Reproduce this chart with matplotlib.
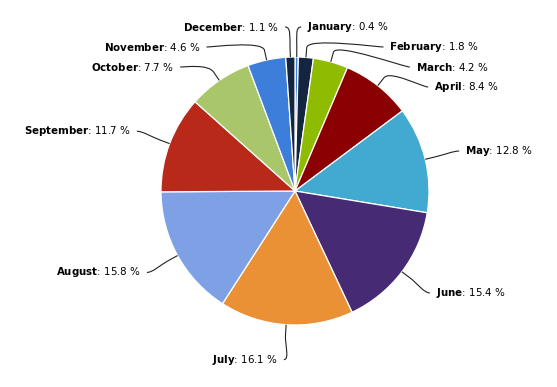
import numpy as np
import matplotlib
matplotlib.use("Agg")
import matplotlib.pyplot as plt
from matplotlib.path import Path
import matplotlib.patches as mpatches

# data
months = ['January', 'February', 'March', 'April', 'May', 'June',
          'July', 'August', 'September', 'October', 'November', 'December']
shares = [0.4, 1.8, 4.2, 8.4, 12.8, 15.4, 16.1, 15.8, 11.7, 7.7, 4.6, 1.1]

palette = ['#3D7EDB', '#142540', '#8FBB00', '#8B0000', '#42AAD0',
           '#462A73', '#EA9136', '#7EA1E6', '#B8291A', '#A9C66A']
colors = [palette[i % len(palette)] for i in range(len(shares))]

W, H = 557, 387
cx, cy_down, r = 295, 191, 134
cy = H - cy_down
dist = 35
R = r + dist

fig = plt.figure(figsize=(W / 100, H / 100), dpi=100)
ax = fig.add_axes([0, 0, 1, 1])
ax.pie(shares, startangle=90, counterclock=False, center=(cx, cy), radius=r,
       colors=colors, wedgeprops=dict(edgecolor='white', linewidth=0.9))
ax.set_xlim(0, W)
ax.set_ylim(0, H)
ax.set_aspect('equal')
ax.axis('off')

# mid angles, clockwise from top (degrees)
total = sum(shares)
cum = np.cumsum([0] + shares[:-1])
theta = [(c + s / 2) / total * 360 for c, s in zip(cum, shares)]

def pt(th, rho):
    a = np.radians(th)
    return cx + rho * np.sin(a), cy + rho * np.cos(a)

# label layout (y measured downward from top, as in the picture)
top_min, gap = 27, 20
label_pos = {}
for side in ('right', 'left'):
    idx = [i for i in range(len(shares)) if (theta[i] < 180) == (side == 'right')]
    nat = {i: cy_down - R * np.cos(np.radians(theta[i])) for i in idx}
    idx.sort(key=lambda i: nat[i])
    prev = None
    for k, i in enumerate(idx):
        y = max(nat[i], top_min)
        if prev is not None:
            y = max(y, prev + gap)
        prev = y
        s = 1 if side == 'right' else -1
        if k == 0:
            x = pt(theta[i], R)[0] + s * 4
        else:
            dy = np.clip(y - cy_down, -R, R)
            x = cx + s * np.sqrt(R ** 2 - dy ** 2)
        label_pos[i] = (x, H - y, s)

for i, name in enumerate(months):
    x, y, s = label_pos[i]
    p0 = pt(theta[i], r)
    p1 = pt(theta[i], r + 10)
    p2 = pt(theta[i], r + 20)
    verts = [(x, y), (x - s * 6, y), p2, p1, p0]
    codes = [Path.MOVETO, Path.CURVE4, Path.CURVE4, Path.CURVE4, Path.LINETO]
    ax.add_patch(mpatches.PathPatch(Path(verts, codes), fill=False,
                                    edgecolor='#222222', lw=0.8))
    ax.text(x + s * 6, y, r'$\mathbf{%s}$: %.1f %%' % (name, shares[i]),
            ha='left' if s > 0 else 'right', va='center', fontsize=7.4,
            color='#000000')

plt.savefig('out.png', dpi=100)
